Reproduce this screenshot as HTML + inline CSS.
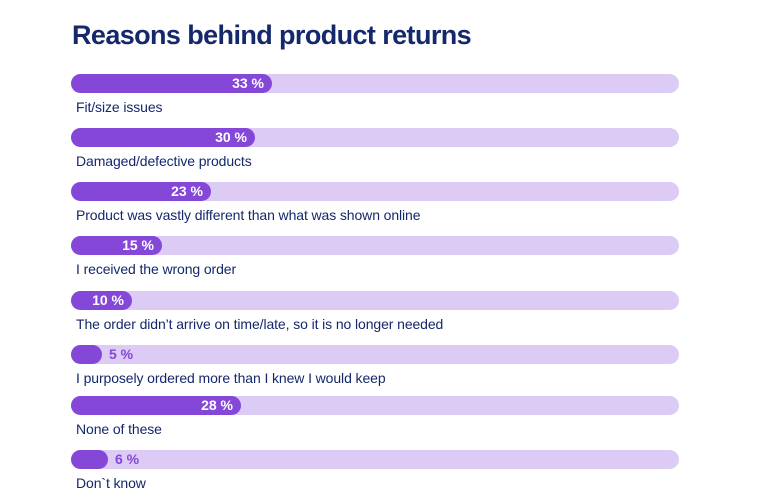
<!DOCTYPE html>
<html><head><meta charset="utf-8"><style>
body{margin:0;width:768px;height:500px;background:#fff;font-family:"Liberation Sans",sans-serif;position:relative;overflow:hidden}
h1{position:absolute;left:72px;top:20px;margin:0;font-size:27px;font-weight:bold;color:#14286b;letter-spacing:-0.6px}
.t{position:absolute;left:71px;width:608px;height:19px;border-radius:10px;background:#dccbf5}
.f{position:absolute;left:0;top:0;height:19px;border-radius:10px;background:#8447d8}
.v{position:absolute;top:0;line-height:19px;font-size:14px;font-weight:bold;color:#fff;white-space:nowrap}
.o{color:#8447d8}
.l{position:absolute;left:76px;font-size:14px;color:#14286b;white-space:nowrap;letter-spacing:-0.1px}
</style></head><body>
<h1>Reasons behind product returns</h1>

<div class="t" style="top:74px"><div class="f" style="width:201px"></div><div class="v" style="right:415px">33 %</div></div>
<div class="l" style="top:99px">Fit/size issues</div>

<div class="t" style="top:128px"><div class="f" style="width:184px"></div><div class="v" style="right:432px">30 %</div></div>
<div class="l" style="top:153px">Damaged/defective products</div>

<div class="t" style="top:182px"><div class="f" style="width:140px"></div><div class="v" style="right:476px">23 %</div></div>
<div class="l" style="top:207px">Product was vastly different than what was shown online</div>

<div class="t" style="top:236px"><div class="f" style="width:91px"></div><div class="v" style="right:525px">15 %</div></div>
<div class="l" style="top:261px">I received the wrong order</div>

<div class="t" style="top:291px"><div class="f" style="width:61px"></div><div class="v" style="right:555px">10 %</div></div>
<div class="l" style="top:316px">The order didn’t arrive on time/late, so it is no longer needed</div>

<div class="t" style="top:345px"><div class="f" style="width:31px"></div><div class="v o" style="left:38px">5 %</div></div>
<div class="l" style="top:370px">I purposely ordered more than I knew I would keep</div>

<div class="t" style="top:396px"><div class="f" style="width:170px"></div><div class="v" style="right:446px">28 %</div></div>
<div class="l" style="top:421px">None of these</div>

<div class="t" style="top:450px"><div class="f" style="width:37px"></div><div class="v o" style="left:44px">6 %</div></div>
<div class="l" style="top:475px">Don`t know</div>
</body></html>
